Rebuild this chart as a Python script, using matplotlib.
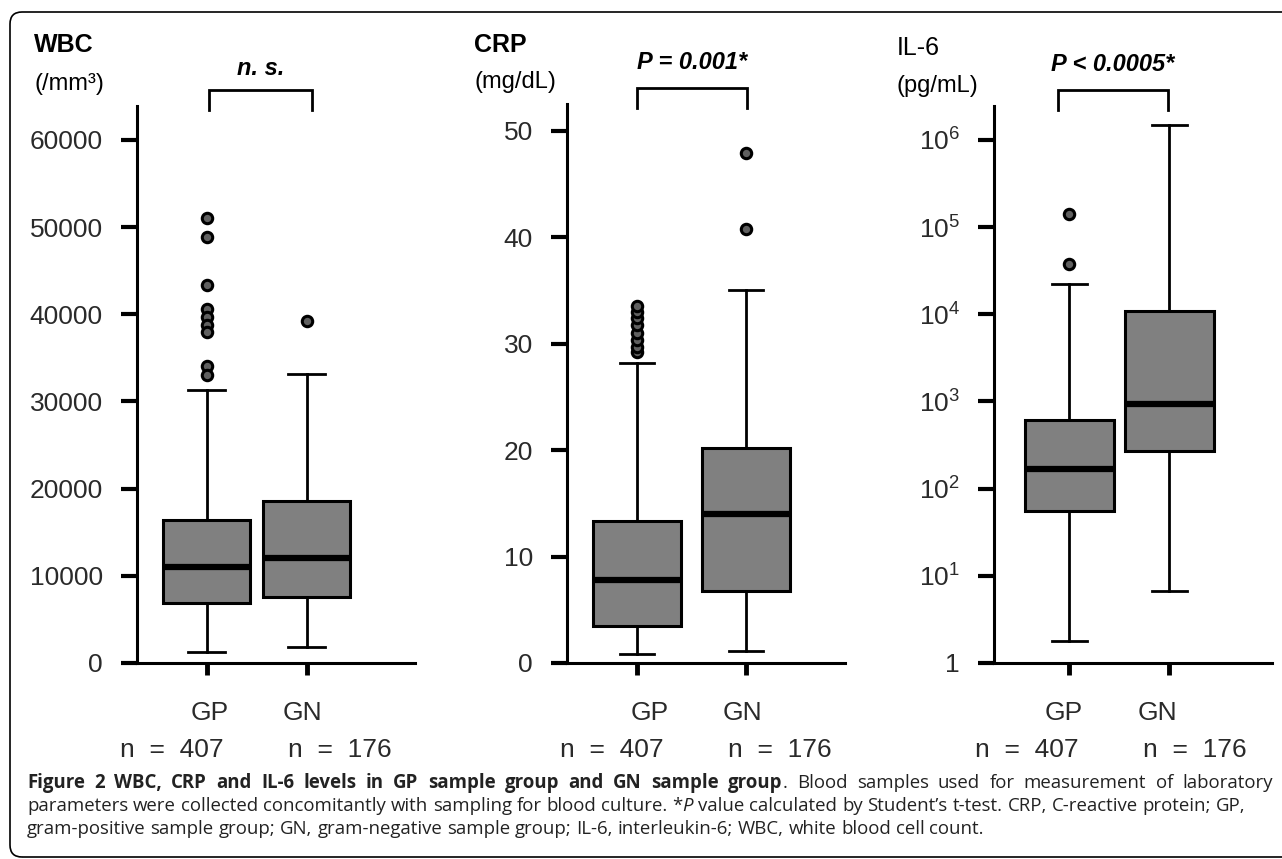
import matplotlib
matplotlib.use('Agg')
import matplotlib.pyplot as plt
import matplotlib.transforms as mtransforms
from matplotlib.patches import FancyBboxPatch

plt.rcParams['font.family'] = ['Liberation Sans', 'DejaVu Sans']
plt.rcParams['mathtext.default'] = 'regular'

W, H = 1282, 859

groups = ['GP', 'GN']
group_n = ['n  =  407', 'n  =  176']

# WBC (/mm3)
wbc_q1 = [6900, 7600]
wbc_med = [11000, 12100]
wbc_q3 = [16400, 18600]
wbc_lo = [1300, 1800]
wbc_hi = [31300, 33100]
wbc_fliers = [[51000, 48900, 43400, 40600, 39700, 38800, 38000, 34100, 33000], [39200]]
wbc_ticks = [0, 10000, 20000, 30000, 40000, 50000, 60000]

# CRP (mg/dL)
crp_q1 = [3.5, 6.8]
crp_med = [7.8, 14.0]
crp_q3 = [13.3, 20.2]
crp_lo = [0.8, 1.1]
crp_hi = [28.2, 35.0]
crp_fliers = [[29.2, 29.7, 30.3, 31.0, 31.7, 32.4, 33.0, 33.5], [47.9, 40.8]]
crp_ticks = [0, 10, 20, 30, 40, 50]

# IL-6 (pg/mL)
il6_q1 = [56, 270]
il6_med = [170, 930]
il6_q3 = [610, 10800]
il6_lo = [1.8, 6.7]
il6_hi = [22000, 1.5e6]
il6_fliers = [[140000, 38000], []]
il6_ticks = [1, 10, 100, 1000, 10000, 100000, 1000000]
il6_ticklabels = ['1', '10$^1$', '10$^2$', '10$^3$', '10$^4$', '10$^5$', '10$^6$']

p_labels = ['n. s.', 'P = 0.001*', 'P < 0.0005*']

caption_bold = 'Figure 2 WBC, CRP and IL-6 levels in GP sample group and GN sample group'
caption_1 = 'Blood samples used for measurement of laboratory'
caption_2a = 'parameters were collected concomitantly with sampling for blood culture.'
caption_2b = 'value calculated by Student’s t-test. CRP, C-reactive protein; GP,'
caption_3 = 'gram-positive sample group; GN, gram-negative sample group; IL-6, interleukin-6; WBC, white blood cell count.'


def make_stats(q1, med, q3, lo, hi, fl):
    out = []
    for i in range(2):
        out.append(dict(q1=q1[i], med=med[i], q3=q3[i], whislo=lo[i], whishi=hi[i],
                        fliers=fl[i], label=groups[i]))
    return out


panels = [
    dict(stats=make_stats(wbc_q1, wbc_med, wbc_q3, wbc_lo, wbc_hi, wbc_fliers),
         left=137, right=415, top=106, ylim=(0, 63900), xlim=(0.30, 3.08),
         width=0.87, cap=0.37, ticks=wbc_ticks, ticklabels=[str(t) for t in wbc_ticks],
         log=False, name='WBC', unit='(/mm³)', name_xy=(34, 52), unit_xy=(34, 90),
         bracket=(1.02, 2.05), ptext_y=1.068,
         gp=1.03, gn=1.95, n1=0.65, n2=2.33),
    dict(stats=make_stats(crp_q1, crp_med, crp_q3, crp_lo, crp_hi, crp_fliers),
         left=567, right=845, top=104, ylim=(0, 52.5), xlim=(0.358, 2.908),
         width=0.80, cap=0.32, ticks=crp_ticks, ticklabels=[str(t) for t in crp_ticks],
         log=False, name='CRP', unit='(mg/dL)', name_xy=(474, 52), unit_xy=(475, 88),
         bracket=(1.0, 2.01), ptext_y=1.074,
         gp=1.12, gn=1.97, n1=0.77, n2=2.31),
    dict(stats=make_stats(il6_q1, il6_med, il6_q3, il6_lo, il6_hi, il6_fliers),
         left=994, right=1272, top=106, ylim=(1, 10 ** 6.39), xlim=(0.25, 3.03),
         width=0.89, cap=0.35, ticks=il6_ticks, ticklabels=il6_ticklabels,
         log=True, name='IL-6', unit='(pg/mL)', name_xy=(897, 55), unit_xy=(896, 92),
         bracket=(0.89, 1.99), ptext_y=1.074,
         gp=0.95, gn=1.88, n1=0.58, n2=2.26),
]

fig = plt.figure(figsize=(W / 100, H / 100), dpi=100)
bottom_px = 663

for i, p in enumerate(panels):
    ax = fig.add_axes([p['left'] / W, 1 - bottom_px / H,
                       (p['right'] - p['left']) / W, (bottom_px - p['top']) / H])
    if p['log']:
        ax.set_yscale('log')
    ax.bxp(p['stats'], positions=[1, 2], widths=p['width'], capwidths=p['cap'],
           patch_artist=True, showfliers=True,
           boxprops=dict(facecolor='#808080', edgecolor='black', linewidth=2.2),
           medianprops=dict(color='black', linewidth=4.5, solid_capstyle='butt'),
           whiskerprops=dict(color='black', linewidth=2.0),
           capprops=dict(color='black', linewidth=2.0),
           flierprops=dict(marker='o', markersize=7.5, markerfacecolor='#606060',
                           markeredgecolor='black', markeredgewidth=2.2))
    ax.set_xlim(p['xlim'])
    ax.set_ylim(p['ylim'])
    ax.set_yticks(p['ticks'])
    ax.set_yticklabels(p['ticklabels'])
    ax.minorticks_off()
    ax.set_xticks([1, 2])
    ax.tick_params(axis='y', length=11.5, width=3, pad=13, labelsize=19, labelcolor='#2a2a2a')
    ax.tick_params(axis='x', length=8.5, width=3.5, labelbottom=False)
    for s in ['top', 'right']:
        ax.spines[s].set_visible(False)
    for s in ['left', 'bottom']:
        ax.spines[s].set_linewidth(2.2)
    ax.set_facecolor('none')

    tr = mtransforms.blended_transform_factory(ax.transData, ax.transAxes)
    ax.text(p['gp'], -0.09, groups[0], transform=tr, ha='center', va='center', fontsize=19, color='#2a2a2a')
    ax.text(p['gn'], -0.09, groups[1], transform=tr, ha='center', va='center', fontsize=19, color='#2a2a2a')
    ax.text(p['n1'], -0.156, group_n[0], transform=tr, ha='center', va='center', fontsize=19, color='#2a2a2a')
    ax.text(p['n2'], -0.156, group_n[1], transform=tr, ha='center', va='center', fontsize=19, color='#2a2a2a')

    b0, b1 = p['bracket']
    ax.plot([b0, b0, b1, b1], [0.993, 1.029, 1.029, 0.993], transform=tr, color='black',
            lw=2.0, clip_on=False, solid_joinstyle='miter')
    ax.text((b0 + b1) / 2, p['ptext_y'], p_labels[i], transform=tr, ha='center', va='center',
            fontsize=17, fontweight='bold', fontstyle='italic')

    fig.text(p['name_xy'][0] / W, 1 - p['name_xy'][1] / H, p['name'], ha='left', va='baseline',
             fontsize=18, fontweight='bold' if i < 2 else 'normal')
    fig.text(p['unit_xy'][0] / W, 1 - p['unit_xy'][1] / H, p['unit'], ha='left', va='baseline',
             fontsize=17)

# frame around the figure
frame = FancyBboxPatch((0.10, 0.02), 13.5, 8.45, boxstyle='round,pad=0,rounding_size=0.12',
                       transform=fig.dpi_scale_trans, fill=False, edgecolor='black', lw=1.2)
fig.patches.append(frame)

# caption: words drawn one by one so the first line can be justified
cap_font = ['Open Sans', 'DejaVu Sans']
renderer = fig.canvas.get_renderer()
REG, BOLD, ITAL = {}, dict(fontweight='bold'), dict(fontstyle='italic')
cap_size = 12.0


def piece_width(s, kw):
    t = fig.text(0, 0, s, fontsize=cap_size, family=cap_font, **kw)
    w = t.get_window_extent(renderer=renderer).width
    t.remove()
    return w


# size the caption so the last (unjustified) line spans as in the original
cap_size = cap_size * 955 / piece_width(caption_3, REG)
space_w = piece_width('a a', REG) - piece_width('aa', REG)


def draw_line(x_px, y_px, words, justify_to=None):
    widths = [sum(piece_width(s, kw) for s, kw in w) for w in words]
    gap = space_w
    if justify_to is not None:
        gap = (justify_to - x_px - sum(widths)) / (len(words) - 1)
    x = x_px
    for w, ww in zip(words, widths):
        xx = x
        for s, kw in w:
            fig.text(xx / W, 1 - y_px / H, s, ha='left', va='baseline', fontsize=cap_size,
                     family=cap_font, color='#222222', **kw)
            xx += piece_width(s, kw)
        x += ww + gap


line1 = [[(w, BOLD)] for w in caption_bold.split()]
line1[-1].append(('.', REG))
line1 += [[(w, REG)] for w in caption_1.split()]
line2 = [[(w, REG)] for w in caption_2a.split()]
line2.append([('*', REG), ('P', ITAL)])
line2 += [[(w, REG)] for w in caption_2b.split()]
line3 = [[(w, REG)] for w in caption_3.split()]

draw_line(27, 788, line1, justify_to=1273)
draw_line(27, 811, line2)
draw_line(27, 834, line3)

fig.savefig('out.png', dpi=100)
